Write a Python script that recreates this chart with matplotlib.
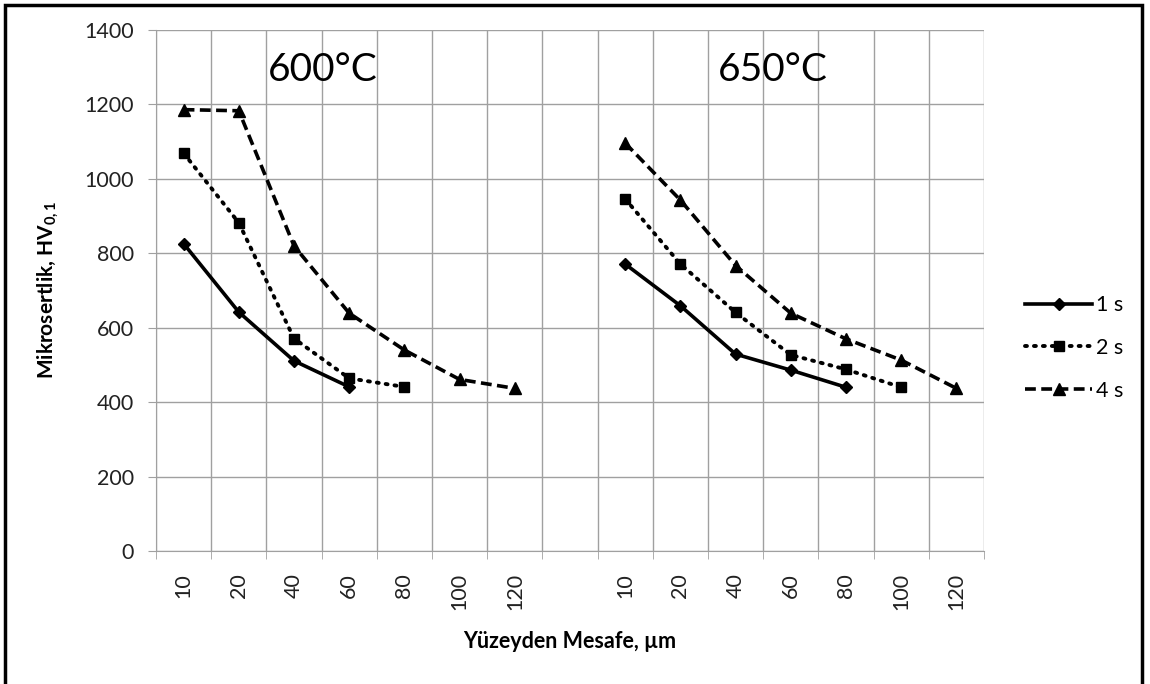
import matplotlib
matplotlib.use("Agg")
import matplotlib.pyplot as plt
from matplotlib.lines import Line2D
import numpy as np

# category labels (one empty slot between the two temperature groups)
categories = ["10", "20", "40", "60", "80", "100", "120", "",
              "10", "20", "40", "60", "80", "100", "120"]

# 600 C values (first 7 slots)
hv_600_1s = [826, 642, 511, 441]
hv_600_2s = [1069, 882, 571, 464, 441]
hv_600_4s = [1186, 1183, 820, 639, 540, 461, 437]

# 650 C values (slots 8..14)
hv_650_1s = [771, 659, 529, 486, 440]
hv_650_2s = [946, 771, 641, 527, 488, 440]
hv_650_4s = [1096, 943, 767, 639, 570, 513, 437]

series_labels = ["1 s", "2 s", "4 s"]

plt.rcParams['font.family'] = ['Lato', 'DejaVu Sans']
plt.rcParams['mathtext.default'] = 'regular'

fig = plt.figure(figsize=(11.5, 6.84), dpi=100)
ax = fig.add_axes([156 / 1150, 1 - 551 / 684, (984 - 156) / 1150, (551 - 30) / 684])

styles = [
    dict(color="black", lw=2.6, ls="-", marker="D", ms=6),
    dict(color="black", lw=2.8, ls=(0, (0.5, 1.8)), marker="s", ms=7.5, dash_capstyle="round"),
    dict(color="black", lw=2.6, ls=(0, (3.0, 1.5)), marker="^", ms=8.5),
]

for vals, st in zip([hv_600_1s, hv_600_2s, hv_600_4s], styles):
    ax.plot(np.arange(len(vals)), vals, **st)
for vals, st in zip([hv_650_1s, hv_650_2s, hv_650_4s], styles):
    ax.plot(np.arange(len(vals)) + 8, vals, **st)

ax.set_xlim(-0.5, len(categories) - 0.5)
ax.set_ylim(0, 1400)
ax.set_yticks(np.arange(0, 1401, 200))
ax.set_xticks(np.arange(len(categories)))
ax.set_xticklabels(categories, rotation=90)
ax.set_xticks(np.arange(len(categories) + 1) - 0.5, minor=True)

grid_c = "#a0a0a0"
ax.grid(True, which="minor", axis="x", color=grid_c, lw=1.0)
ax.grid(True, which="major", axis="y", color=grid_c, lw=1.0)
ax.set_axisbelow(True)
ax.tick_params(axis="x", which="major", length=0, labelsize=15.5, pad=16, colors="#222222")
ax.tick_params(axis="x", which="minor", length=6, color=grid_c, direction="out")
ax.tick_params(axis="y", length=6, color=grid_c, labelsize=15.5, pad=10, colors="#222222")
ax.tick_params(axis="y", color=grid_c)
for s in ["top", "right"]:
    ax.spines[s].set_visible(False)
for s in ["left", "bottom"]:
    ax.spines[s].set_color(grid_c)

ax.text(2.52, 1292, "600°C", fontsize=28, ha="center", va="center")
ax.text(10.68, 1292, "650°C", fontsize=28, ha="center", va="center")

fig.text(48 / 1150, 1 - 290 / 684, "Mikrosertlik, HV$_{0,1}$", rotation=90,
         fontsize=15, fontweight="bold", ha="center", va="center")
fig.text(570 / 1150, 1 - 641 / 684, "Yüzeyden Mesafe, µm",
         fontsize=15.5, fontweight="bold", ha="center", va="center")

handles = [Line2D([], [], **st) for st in styles]
fig.legend(handles, series_labels, loc="upper left", bbox_to_anchor=(1006 / 1150, 1 - 276 / 684),
           frameon=False, fontsize=15.5, handlelength=3.1, handletextpad=0.2,
           labelspacing=1.05)

# outer chart border (cut off at the bottom like the screenshot)
fig.patches.append(plt.Rectangle((5 / 1150, -0.05), 1137 / 1150, 1.05 - 5 / 684,
                                 transform=fig.transFigure, fill=False,
                                 edgecolor="black", lw=2.5))

fig.savefig("out.png", dpi=100)
